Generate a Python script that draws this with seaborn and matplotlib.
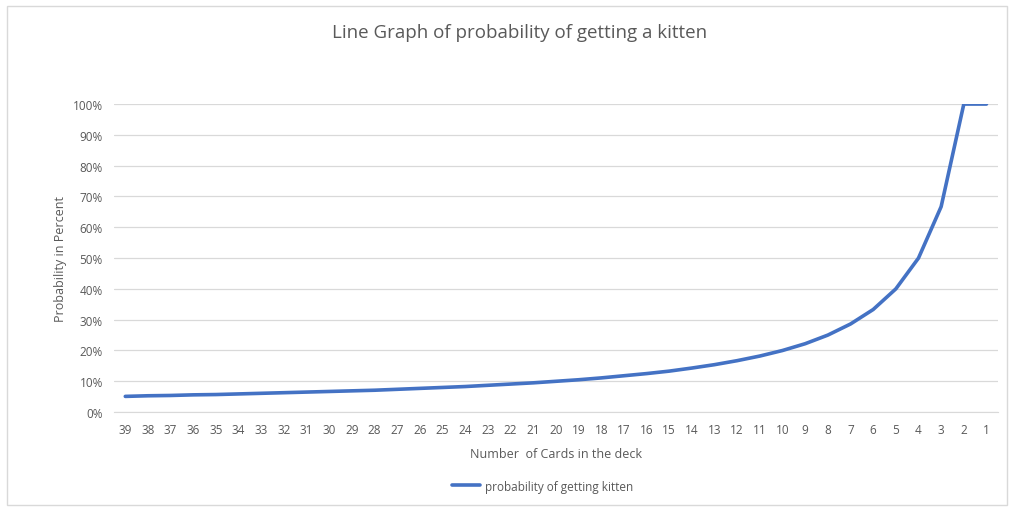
import seaborn as sns
from matplotlib import pyplot as plt
from matplotlib.patches import Rectangle
import pandas as pd

cards = [39, 38, 37, 36, 35, 34, 33, 32, 31, 30, 29, 28, 27, 26, 25, 24, 23, 22, 21, 20,
         19, 18, 17, 16, 15, 14, 13, 12, 11, 10, 9, 8, 7, 6, 5, 4, 3, 2, 1]
probability = [5.1, 5.3, 5.4, 5.6, 5.7, 5.9, 6.1, 6.3, 6.5, 6.7, 6.9, 7.1, 7.4, 7.7, 8.0,
               8.3, 8.7, 9.1, 9.5, 10.0, 10.5, 11.1, 11.8, 12.5, 13.3, 14.3, 15.4, 16.7,
               18.2, 20.0, 22.2, 25.0, 28.6, 33.3, 40.0, 50.0, 66.7, 100.0, 100.0]
y_ticks = [0, 10, 20, 30, 40, 50, 60, 70, 80, 90, 100]

sns.set_style("white")
plt.rcParams['font.family'] = ['Open Sans', 'DejaVu Sans']

grey = "#595959"
data_set = pd.DataFrame({
    "pos": range(len(cards)),
    "prob": probability,
    "series": "probability of getting kitten",
})

fig = plt.figure(figsize=(10.13, 5.10), dpi=100)
ax = fig.add_axes([0.1125, 0.19, 0.8725, 0.604])

sns.lineplot(data=data_set, x="pos", y="prob", hue="series",
             palette=["#4472C4"], linewidth=2.6, ax=ax)

ax.set_xlim(-0.5, len(cards) - 0.5)
ax.set_ylim(0, 100)
ax.set_yticks(y_ticks)
ax.set_yticklabels([f"{t}%" for t in y_ticks])
ax.set_xticks(range(len(cards)))
ax.set_xticklabels([str(c) for c in cards])
ax.tick_params(axis="both", length=0, labelsize=8.5, colors=grey, pad=8)
ax.grid(axis="y", color="#d9d9d9", linewidth=0.9)
ax.set_axisbelow(True)
for side in ["top", "right", "left"]:
    ax.spines[side].set_visible(False)
ax.spines["bottom"].set_color("#d9d9d9")

ax.set_xlabel("Number  of Cards in the deck", fontsize=9, color=grey, labelpad=8)
ax.set_ylabel("Probability in Percent", fontsize=9, color=grey, labelpad=4)

fig.text(0.513, 0.935, "Line Graph of probability of getting a kitten",
         ha="center", va="center", fontsize=13.5, color=grey)

ax.legend(loc="center", bbox_to_anchor=(0.485, -0.24), frameon=False,
          fontsize=8.5, labelcolor=grey, handlelength=2.4, handletextpad=0.4)

fig.patches.append(Rectangle((0.007, 0.008), 0.987, 0.978, transform=fig.transFigure,
                             fill=False, edgecolor="#d9d9d9", linewidth=1))

plt.savefig("out.png", dpi=100)
